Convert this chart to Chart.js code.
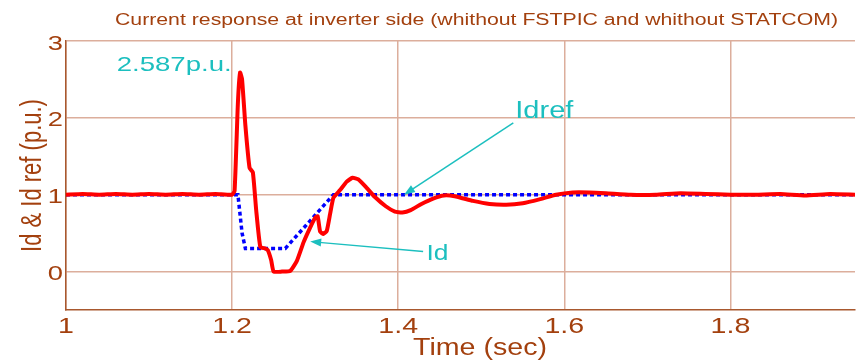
<!DOCTYPE html>
<html>
<head>
<meta charset="utf-8">
<script src="https://cdn.jsdelivr.net/npm/chart.js@4.4.0/dist/chart.umd.min.js"></script>
<style>
  html, body { margin: 0; padding: 0; background: #fff; }
  #wrap { width: 856px; height: 363px; }
</style>
</head>
<body>
<div id="wrap"><canvas id="chart" width="856" height="363"></canvas></div>
<script>
var idTime = [1.00, 1.02, 1.04, 1.06, 1.08, 1.10, 1.12, 1.14, 1.16, 1.18, 1.200, 1.203, 1.207, 1.2096, 1.212, 1.216, 1.221, 1.225, 1.229, 1.234, 1.240, 1.243, 1.247, 1.250, 1.260, 1.270, 1.278, 1.286, 1.293, 1.300, 1.303, 1.306, 1.310, 1.314, 1.318, 1.322, 1.330, 1.338, 1.345, 1.352, 1.362, 1.372, 1.385, 1.396, 1.405, 1.415, 1.428, 1.442, 1.455, 1.468, 1.49, 1.51, 1.53, 1.55, 1.57, 1.59, 1.61, 1.63, 1.65, 1.68, 1.71, 1.74, 1.77, 1.80, 1.83, 1.86, 1.89, 1.92, 1.95];
var idValue = [1.00, 1.01, 1.00, 1.01, 1.00, 1.01, 1.00, 1.01, 1.00, 1.01, 1.00, 1.05, 2.20, 2.59, 2.50, 1.90, 1.35, 1.29, 0.80, 0.32, 0.30, 0.28, 0.15, 0.00, 0.00, 0.01, 0.14, 0.38, 0.55, 0.70, 0.72, 0.52, 0.49, 0.53, 0.75, 0.96, 1.06, 1.17, 1.22, 1.20, 1.09, 0.97, 0.85, 0.78, 0.77, 0.80, 0.88, 0.95, 0.99, 0.98, 0.92, 0.88, 0.87, 0.89, 0.94, 1.00, 1.03, 1.03, 1.02, 1.00, 1.00, 1.02, 1.01, 1.00, 1.00, 1.01, 0.99, 1.01, 1.00];
var idrefTime = [1.00, 1.207, 1.209, 1.212, 1.216, 1.264, 1.322, 1.95];
var idrefValue = [1.00, 1.00, 0.80, 0.50, 0.30, 0.30, 1.00, 1.00];

var xTicks = [1, 1.2, 1.4, 1.6, 1.8];
var xTickLabels = ['1', '1.2', '1.4', '1.6', '1.8'];
var yTicks = [0, 1, 2, 3];
var yTickLabels = ['0', '1', '2', '3'];

var titleText = 'Current response at inverter side (whithout FSTPIC and whithout STATCOM)';
var xTitle = 'Time (sec)';
var yTitle = 'Id & Id ref (p.u.)';
var peakLabel = '2.587p.u.';
var idrefLabel = 'Idref';
var idLabel = 'Id';

var brown = '#a3400e';
var cyan = '#1cbfbf';
var FONT = '"Liberation Sans", Arial, sans-serif';

function toPoints(xs, ys) {
  var pts = [];
  for (var i = 0; i < xs.length; i++) pts.push({ x: xs[i], y: ys[i] });
  return pts;
}

// text is drawn wider than normal, like in the original figure
function stretchText(ctx, str, x, y, size, align, sx, color) {
  ctx.save();
  ctx.font = size + 'px ' + FONT;
  ctx.fillStyle = color;
  ctx.textAlign = align;
  ctx.textBaseline = 'alphabetic';
  ctx.translate(x, y);
  ctx.scale(sx, 1);
  ctx.fillText(str, 0, 0);
  ctx.restore();
}

function fitText(ctx, str, left, y, size, width, color) {
  ctx.save();
  ctx.font = size + 'px ' + FONT;
  var sx = width / ctx.measureText(str).width;
  ctx.restore();
  stretchText(ctx, str, left, y, size, 'left', sx, color);
}

function arrow(ctx, x0, y0, x1, y1) {
  var ang = Math.atan2(y1 - y0, x1 - x0);
  var len = 11, half = 4;
  ctx.save();
  ctx.strokeStyle = cyan;
  ctx.fillStyle = cyan;
  ctx.lineWidth = 1.5;
  ctx.beginPath();
  ctx.moveTo(x0, y0);
  ctx.lineTo(x1 - Math.cos(ang) * len * 0.8, y1 - Math.sin(ang) * len * 0.8);
  ctx.stroke();
  ctx.beginPath();
  ctx.moveTo(x1, y1);
  ctx.lineTo(x1 - Math.cos(ang) * len - Math.sin(ang) * half, y1 - Math.sin(ang) * len + Math.cos(ang) * half);
  ctx.lineTo(x1 - Math.cos(ang) * len + Math.sin(ang) * half, y1 - Math.sin(ang) * len - Math.cos(ang) * half);
  ctx.closePath();
  ctx.fill();
  ctx.restore();
}

var textPlugin = {
  id: 'textPlugin',
  afterDraw: function (chart) {
    var ctx = chart.ctx;
    var xs = chart.scales.x, ys = chart.scales.y;
    var area = chart.chartArea;

    // tick labels
    xTicks.forEach(function (v, i) {
      stretchText(ctx, xTickLabels[i], xs.getPixelForValue(v), area.bottom + 23, 22, 'center', 1.3, brown);
    });
    yTicks.forEach(function (v, i) {
      stretchText(ctx, yTickLabels[i], area.left - 3, ys.getPixelForValue(v) + 8.5, 21, 'right', 1.3, brown);
    });

    // titles
    fitText(ctx, titleText, 115, 25, 16, 723, brown);
    fitText(ctx, xTitle, 413, 355, 23, 134, brown);
    ctx.save();
    ctx.translate(41, (area.top + area.bottom) / 2);
    ctx.rotate(-Math.PI / 2);
    ctx.scale(1, 1.3);
    ctx.font = '22px ' + FONT;
    ctx.fillStyle = brown;
    ctx.textAlign = 'center';
    ctx.fillText(yTitle, 0, 0);
    ctx.restore();

    // annotations
    fitText(ctx, peakLabel, xs.getPixelForValue(1.061), ys.getPixelForValue(2.61), 21, 115, cyan);
    fitText(ctx, idrefLabel, xs.getPixelForValue(1.541), ys.getPixelForValue(2.0), 23, 58, cyan);
    fitText(ctx, idLabel, xs.getPixelForValue(1.434), ys.getPixelForValue(0.156), 22, 22, cyan);
    arrow(ctx, xs.getPixelForValue(1.5386), ys.getPixelForValue(1.935), xs.getPixelForValue(1.407), ys.getPixelForValue(1.0));
    arrow(ctx, xs.getPixelForValue(1.430), ys.getPixelForValue(0.26), xs.getPixelForValue(1.294), ys.getPixelForValue(0.39));
  }
};

var chart = new Chart(document.getElementById('chart'), {
  type: 'line',
  data: {
    datasets: [
      {
        label: 'Id',
        data: toPoints(idTime, idValue),
        borderColor: '#ff0000',
        borderWidth: 4,
        pointRadius: 0,
        tension: 0.15,
        fill: false
      },
      {
        label: 'Idref',
        data: toPoints(idrefTime, idrefValue),
        borderColor: '#0000ff',
        borderWidth: 3.5,
        borderDash: [4, 3],
        pointRadius: 0,
        tension: 0,
        fill: false
      }
    ]
  },
  options: {
    responsive: false,
    animation: false,
    devicePixelRatio: 1,
    layout: { padding: { top: 41, right: 1, left: 0, bottom: 0 } },
    plugins: {
      legend: { display: false },
      tooltip: { enabled: false },
      title: { display: false }
    },
    scales: {
      x: {
        type: 'linear',
        min: 1,
        max: 1.95,
        afterBuildTicks: function (scale) {
          scale.ticks = xTicks.map(function (v) { return { value: v }; });
        },
        afterFit: function (scale) { scale.height = 53; },
        ticks: { display: false },
        grid: { color: '#dcae9c', lineWidth: 1.5, drawTicks: false },
        border: { display: true, color: '#a8582e', width: 1.5 }
      },
      y: {
        min: -0.5,
        max: 3,
        afterBuildTicks: function (scale) {
          scale.ticks = yTicks.map(function (v) { return { value: v }; });
        },
        afterFit: function (scale) { scale.width = 66; },
        ticks: { display: false },
        grid: { color: '#dcae9c', lineWidth: 1.5, drawTicks: false },
        border: { display: true, color: '#a8582e', width: 1.5 }
      }
    }
  },
  plugins: [textPlugin]
});
</script>
</body>
</html>
